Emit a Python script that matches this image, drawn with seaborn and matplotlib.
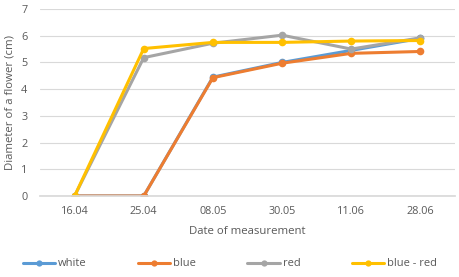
import matplotlib
matplotlib.use("Agg")
import matplotlib.pyplot as plt
import seaborn as sns
import pandas as pd

dates = ["16.04", "25.04", "08.05", "30.05", "11.06", "28.06"]
white = [0, 0, 4.45, 5.0, 5.45, 5.9]
blue = [0, 0, 4.43, 4.97, 5.34, 5.41]
red = [0, 5.18, 5.72, 6.02, 5.5, 5.92]
blue_red = [0, 5.52, 5.75, 5.75, 5.8, 5.82]
series_names = ["white", "blue", "red", "blue - red"]
colors = ["#5B9BD5", "#ED7D31", "#A5A5A5", "#FFC000"]

rows = []
for name, vals in zip(series_names, [white, blue, red, blue_red]):
    for i, (d, v) in enumerate(zip(dates, vals)):
        rows.append({"date": d, "x": i, "value": v, "series": name})
df = pd.DataFrame(rows)

sns.set_theme(style="white")
plt.rcParams["font.family"] = ["Open Sans", "DejaVu Sans"]
txt = "#595959"

fig = plt.figure(figsize=(4.6, 2.77), dpi=100)
ax = fig.add_axes([40 / 460, 1 - 196 / 277, 415 / 460, (196 - 9) / 277])

sns.lineplot(data=df, x="x", y="value", hue="series", hue_order=series_names,
             palette=colors, marker="o", markersize=5.5, markeredgewidth=0,
             linewidth=2.2, ax=ax, legend=False)

ax.set_xlim(-0.5, 5.5)
ax.set_ylim(0, 7)
ax.set_xticks(range(len(dates)))
ax.set_xticklabels(dates)
ax.set_yticks(range(0, 8))
ax.grid(axis="y", color="#D9D9D9", linewidth=0.8)
ax.set_axisbelow(True)
for s in ["top", "right", "left"]:
    ax.spines[s].set_visible(False)
ax.spines["bottom"].set_color("#D9D9D9")
ax.tick_params(axis="both", length=0, labelsize=7.8, colors=txt)
ax.tick_params(axis="x", pad=7)
ax.tick_params(axis="y", pad=9)
ax.set_xlabel("Date of measurement", fontsize=8.2, color=txt, labelpad=7)
ax.set_ylabel("Diameter of a flower (cm)", fontsize=8.2, color=txt, labelpad=4)

handles = [plt.Line2D([], [], color=c, marker="o", markersize=4.5, markeredgewidth=0, linewidth=2.2)
           for c in colors]
fig.legend(handles, series_names, loc="center", bbox_to_anchor=(0.5, 1 - 264 / 277),
           ncol=4, frameon=False, fontsize=8, labelcolor=txt, handlelength=2.9,
           columnspacing=4.6, handletextpad=0.3)

fig.savefig("out.png", dpi=100)
